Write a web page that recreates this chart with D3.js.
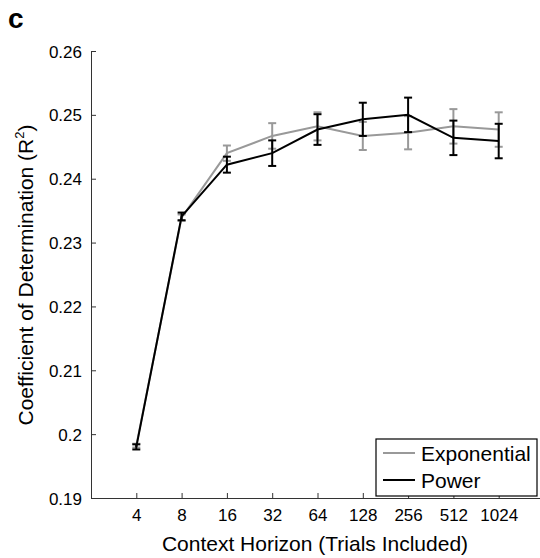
<!DOCTYPE html>
<html><head><meta charset="utf-8">
<script src="https://cdn.jsdelivr.net/npm/d3@7"></script>
<style>body{margin:0;background:#fff}svg{display:block}text{font-family:"Liberation Sans",Arial,sans-serif}</style>
</head><body><svg id="c" width="540" height="558"></svg>
<script>
const horizons = [4, 8, 16, 32, 64, 128, 256, 512, 1024];
const expMean = [0.1982, 0.2339, 0.2440, 0.2467, 0.2482, 0.2467, 0.2472, 0.2482, 0.2477];
const expErr  = [0.0003, 0.0005, 0.0012, 0.0020, 0.0022, 0.0022, 0.0026, 0.0027, 0.0027];
const powMean = [0.1980, 0.2341, 0.2422, 0.2440, 0.2477, 0.2493, 0.2500, 0.2464, 0.2459];
const powErr  = [0.0004, 0.0006, 0.00125, 0.0020, 0.0024, 0.0026, 0.0027, 0.0027, 0.0027];
const yTicks = [0.19, 0.2, 0.21, 0.22, 0.23, 0.24, 0.25, 0.26];
const seriesNames = ["Exponential", "Power"];
const seriesColors = ["#999999", "#000000"];

const svg = d3.select("#c");
const x = d3.scaleLog().base(2).domain([2, 2048]).range([91, 544]);
const y = d3.scaleLinear().domain([0.19, 0.26]).range([498, 51]);

// axes
const xAxis = d3.axisBottom(x).tickValues(horizons).tickFormat(d => d).tickSizeInner(-5).tickSizeOuter(0).tickPadding(11);
const gx = svg.append("g").attr("transform", "translate(0,498)").call(xAxis);
const yAxis = d3.axisLeft(y).tickValues(yTicks).tickFormat(d => d3.format("")(+d.toFixed(2))).tickSizeInner(-5).tickSizeOuter(0).tickPadding(9);
const gy = svg.append("g").attr("transform", "translate(91,0)").call(yAxis);
[gx, gy].forEach(g => {
  g.select(".domain").attr("stroke", "#333").attr("stroke-width", 1);
  g.selectAll(".tick line").attr("stroke", "#333");
  g.selectAll(".tick text").attr("font-size", 17).attr("fill", "#000");
});
gx.select(".domain").attr("d", "M91,0.5H540");
gy.selectAll(".tick text").attr("dy", "0.36em");

svg.append("text").attr("x", 315).attr("y", 551).attr("text-anchor", "middle").attr("font-size", 21).text("Context Horizon (Trials Included)");
const yl = svg.append("text").attr("transform", "translate(33,275) rotate(-90)").attr("text-anchor", "middle").attr("font-size", 21);
yl.append("tspan").text("Coefficient of Determination (R");
yl.append("tspan").attr("font-size", 13).attr("dy", -9).text("2");
yl.append("tspan").attr("dy", 9).text(")");

svg.append("text").attr("x", 8).attr("y", 28).attr("font-size", 28).attr("font-weight", "bold").text("c");

function drawSeries(means, errs, color) {
  const pts = horizons.map((h, i) => ({h, m: means[i], e: errs[i]}));
  svg.append("path").datum(pts).attr("fill", "none").attr("stroke", color).attr("stroke-width", 2)
    .attr("d", d3.line().x(d => x(d.h)).y(d => y(d.m)));
  const g = svg.append("g").attr("stroke", color).attr("stroke-width", 2);
  pts.forEach(d => {
    const cx = x(d.h), y0 = y(d.m - d.e), y1 = y(d.m + d.e);
    g.append("line").attr("x1", cx).attr("x2", cx).attr("y1", y0).attr("y2", y1);
    g.append("line").attr("x1", cx - 4).attr("x2", cx + 4).attr("y1", y0).attr("y2", y0);
    g.append("line").attr("x1", cx - 4).attr("x2", cx + 4).attr("y1", y1).attr("y2", y1);
  });
}
drawSeries(expMean, expErr, seriesColors[0]);
drawSeries(powMean, powErr, seriesColors[1]);

// legend
const lg = svg.append("g");
lg.append("rect").attr("x", 376).attr("y", 439).attr("width", 161).attr("height", 57).attr("fill", "#fff").attr("stroke", "#000").attr("stroke-width", 1.2);
seriesNames.forEach((n, i) => {
  const yy = 453 + i * 27;
  lg.append("line").attr("x1", 383).attr("x2", 415).attr("y1", yy).attr("y2", yy).attr("stroke", seriesColors[i]).attr("stroke-width", 2);
  lg.append("text").attr("x", 421).attr("y", yy).attr("dy", "0.36em").attr("font-size", 21).text(n);
});
</script></body></html>
